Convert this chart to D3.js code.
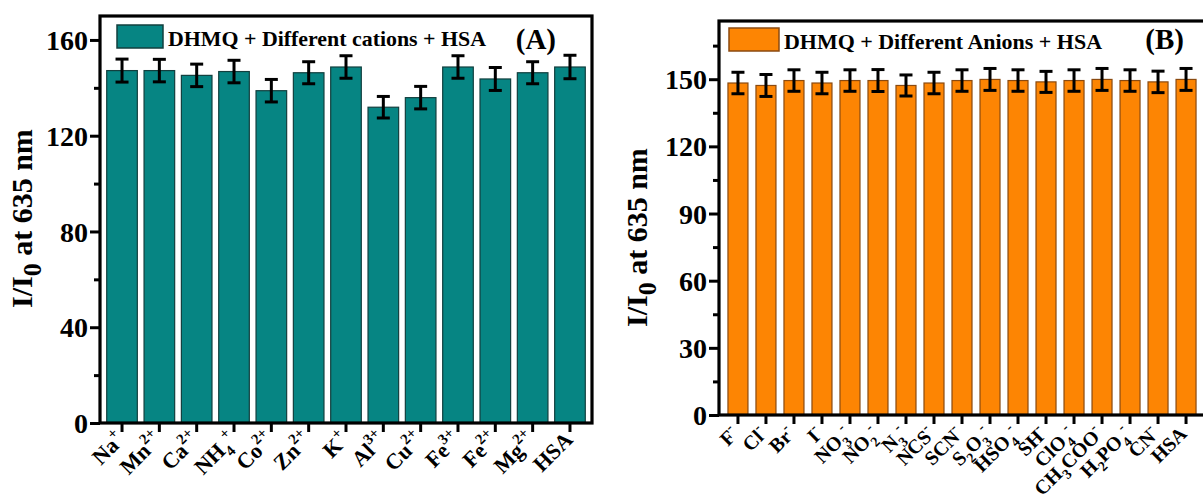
<!DOCTYPE html>
<html>
<head>
<meta charset="utf-8">
<script src="https://cdn.jsdelivr.net/npm/d3@7"></script>
<style>
  html, body { margin: 0; padding: 0; background: #fff; }
  svg { display: block; }
  text { font-family: "Liberation Serif", "Times New Roman", Times, serif; font-weight: bold; fill: #000; }
</style>
</head>
<body>
<svg id="chart" width="1203" height="497"></svg>
<script>
// Panel A: fluorescence ratio with different cations (+ HSA)
const cationLabels = ["Na^{+}", "Mn^{2+}", "Ca^{2+}", "NH_{4}^{+}", "Co^{2+}", "Zn^{2+}", "K^{+}",
                      "Al^{3+}", "Cu^{2+}", "Fe^{3+}", "Fe^{2+}", "Mg^{2+}", "HSA"];
const cationValues = [147.2, 147.2, 145.2, 146.8, 138.8, 146.3, 148.7, 131.9, 135.9, 148.7, 143.7, 146.3, 148.7];
const cationErrors = [4.8, 4.7, 4.7, 4.7, 4.7, 4.6, 4.7, 4.5, 4.7, 4.7, 4.8, 4.6, 4.9];
const cationTicks = [0, 40, 80, 120, 160];
const cationMinorTicks = [20, 60, 100, 140];

// Panel B: fluorescence ratio with different anions (+ HSA)
const anionLabels = ["F^{-}", "Cl^{-}", "Br^{-}", "I^{-}", "NO_{3}^{-}", "NO_{2}^{-}", "N_{3}^{-}", "NCS^{-}",
                     "SCN^{-}", "S_{2}O_{3}^{-}", "HSO_{4}^{-}", "SH^{-}", "ClO_{4}^{-}", "CH_{3}COO^{-}",
                     "H_{2}PO_{4}^{-}", "CN^{-}", "HSA"];
const anionValues = [148.3, 147.2, 149.4, 148.3, 149.4, 149.4, 147.2, 148.3, 149.4, 149.9, 149.4, 148.8,
                     149.4, 149.9, 149.4, 148.8, 149.9];
const anionErrors = [4.8, 4.9, 4.8, 4.8, 4.8, 4.9, 4.7, 4.8, 4.8, 4.9, 4.8, 4.7, 4.8, 4.9, 4.8, 4.8, 4.9];
const anionTicks = [0, 30, 60, 90, 120, 150];
const anionMinorTicks = [15, 45, 75, 105, 135, 165];

const svg = d3.select("#chart");
svg.append("rect").attr("width", 1203).attr("height", 497).attr("fill", "#fff");

// Split "NO_{3}^{-}" style markup into plain / subscript / superscript runs
function parseLabel(s) {
  const parts = [];
  const re = /([_^])\{([^}]*)\}|([^_^]+)/g;
  let m;
  while ((m = re.exec(s)) !== null) {
    if (m[3]) parts.push({ t: m[3], k: "n" });
    else parts.push({ t: m[2], k: m[1] === "_" ? "sub" : "sup" });
  }
  return parts;
}

function writeRich(textSel, s, size, small) {
  let offset = 0;
  parseLabel(s).forEach(p => {
    const target = p.k === "sub" ? size * 0.3 : p.k === "sup" ? -size * 0.45 : 0;
    textSel.append("tspan")
      .attr("font-size", p.k === "n" ? size : small)
      .attr("dy", target - offset)
      .text(p.t);
    offset = target;
  });
}

function drawPanel(cfg) {
  const g = svg.append("g");
  const x = d3.scaleBand()
    .domain(cfg.labels.map((d, i) => i))
    .range([cfg.left, cfg.right])
    .paddingInner(cfg.padInner)
    .paddingOuter(cfg.padOuter);
  const y = d3.scaleLinear().domain([0, cfg.yMax]).range([cfg.bottom, cfg.top]);

  // bars
  g.selectAll("rect.bar")
    .data(cfg.values)
    .join("rect")
    .attr("class", "bar")
    .attr("x", (d, i) => x(i))
    .attr("width", x.bandwidth())
    .attr("y", d => y(d))
    .attr("height", d => y(0) - y(d))
    .attr("fill", cfg.fill)
    .attr("stroke", cfg.stroke)
    .attr("stroke-width", 1.2);

  // error bars
  const cap = 13;
  const eb = g.selectAll("g.err")
    .data(cfg.values.map((v, i) => ({ v, e: cfg.errors[i], i })))
    .join("g")
    .attr("class", "err")
    .attr("stroke", "#000")
    .attr("stroke-width", 3);
  eb.append("line")
    .attr("x1", d => x(d.i) + x.bandwidth() / 2)
    .attr("x2", d => x(d.i) + x.bandwidth() / 2)
    .attr("y1", d => y(d.v + d.e))
    .attr("y2", d => y(d.v - d.e));
  eb.append("line")
    .attr("x1", d => x(d.i) + x.bandwidth() / 2 - cap / 2)
    .attr("x2", d => x(d.i) + x.bandwidth() / 2 + cap / 2)
    .attr("y1", d => y(d.v + d.e))
    .attr("y2", d => y(d.v + d.e));
  eb.append("line")
    .attr("x1", d => x(d.i) + x.bandwidth() / 2 - cap / 2)
    .attr("x2", d => x(d.i) + x.bandwidth() / 2 + cap / 2)
    .attr("y1", d => y(d.v - d.e))
    .attr("y2", d => y(d.v - d.e));

  // y axis: major ticks with labels, minor ticks without
  const yMajor = g.append("g")
    .attr("transform", `translate(${cfg.left},0)`)
    .call(d3.axisLeft(y).tickValues(cfg.ticks).tickSize(10).tickSizeOuter(0).tickPadding(2).tickFormat(d3.format("d")));
  const yMinor = g.append("g")
    .attr("transform", `translate(${cfg.left},0)`)
    .call(d3.axisLeft(y).tickValues(cfg.minor).tickSize(6).tickSizeOuter(0).tickFormat(""));
  [yMajor, yMinor].forEach(a => {
    a.attr("font-family", null);
    a.select(".domain").remove();
    a.selectAll(".tick line").attr("stroke", "#000").attr("stroke-width", 3);
  });
  yMajor.selectAll(".tick text")
    .attr("font-size", 28)
    .attr("dy", "0.34em");

  // x axis ticks
  const xAxis = g.append("g")
    .attr("transform", `translate(0,${cfg.bottom})`)
    .call(d3.axisBottom(x).tickSize(9).tickSizeOuter(0).tickFormat(""));
  xAxis.select(".domain").remove();
  xAxis.selectAll(".tick line").attr("stroke", "#000").attr("stroke-width", 3);

  // rotated category labels
  cfg.labels.forEach((lab, i) => {
    const cx = x(i) + x.bandwidth() / 2 + cfg.labDx;
    const t = g.append("text")
      .attr("text-anchor", "end")
      .attr("transform", `translate(${cx},${cfg.bottom + cfg.labDy}) rotate(-45)`);
    writeRich(t, lab, cfg.labSize, cfg.labSmall);
  });

  // frame
  g.append("rect")
    .attr("x", cfg.left).attr("y", cfg.top)
    .attr("width", cfg.right - cfg.left).attr("height", cfg.bottom - cfg.top)
    .attr("fill", "none").attr("stroke", "#000").attr("stroke-width", 3.2);

  // y title
  const yt = g.append("text")
    .attr("transform", `translate(${cfg.titleX},${cfg.titleY}) rotate(-90)`)
    .attr("text-anchor", "start")
    .attr("font-size", 30);
  yt.append("tspan").text("I/I");
  yt.append("tspan").attr("font-size", 26).attr("dy", 9).text("0");
  yt.append("tspan").attr("dy", -9).text(" at 635 nm");

  // legend
  g.append("rect")
    .attr("x", cfg.legX).attr("y", cfg.legY)
    .attr("width", cfg.legW).attr("height", 23)
    .attr("fill", cfg.fill).attr("stroke", cfg.stroke).attr("stroke-width", 1.5);
  g.append("text")
    .attr("x", cfg.legX + cfg.legW + 5).attr("y", cfg.legY + 21)
    .attr("font-size", 22)
    .attr("textLength", 318).attr("lengthAdjust", "spacingAndGlyphs")
    .text(cfg.legend);

  // panel letter
  g.append("text")
    .attr("x", cfg.letterX).attr("y", 49)
    .attr("text-anchor", "end")
    .attr("font-size", 29)
    .text(cfg.letter);
}

drawPanel({
  labels: cationLabels, values: cationValues, errors: cationErrors,
  ticks: cationTicks, minor: cationMinorTicks, yMax: 170,
  left: 100, right: 592, top: 16, bottom: 423,
  padInner: 0.18, padOuter: 0.18,
  fill: "#068583", stroke: "#123f3e",
  labDx: 4, labDy: 18, labSize: 22, labSmall: 15,
  titleX: 32, titleY: 308,
  legX: 117, legY: 25, legW: 46, legend: "DHMQ + Different cations + HSA",
  letterX: 556, letter: "(A)"
});

drawPanel({
  labels: anionLabels, values: anionValues, errors: anionErrors,
  ticks: anionTicks, minor: anionMinorTicks, yMax: 176,
  left: 719, right: 1205, top: 21, bottom: 415,
  padInner: 0.286, padOuter: 0.32,
  fill: "#fd8503", stroke: "#8a4a10",
  labDx: 2, labDy: 20, labSize: 20, labSmall: 14,
  titleX: 647, titleY: 327,
  legX: 729, legY: 28, legW: 50, legend: "DHMQ + Different Anions + HSA",
  letterX: 1184, letter: "(B)"
});
</script>
</body>
</html>
